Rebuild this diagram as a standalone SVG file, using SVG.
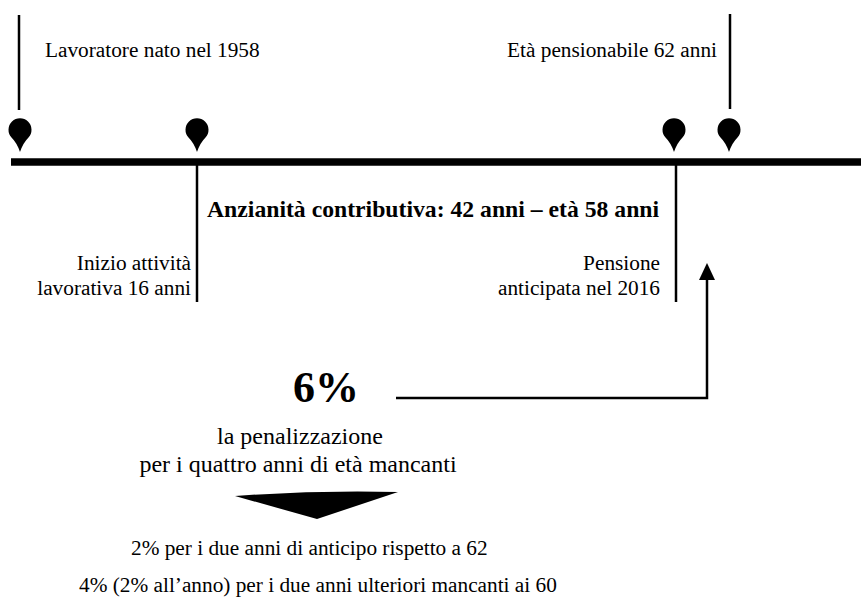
<svg xmlns="http://www.w3.org/2000/svg" width="861" height="608" viewBox="0 0 861 608">
<defs>
<style>
text{font-family:'Liberation Serif','Times New Roman',serif;fill:#000}
.t{font-size:21.3px}
.tl{font-size:24px}
.hd{font-size:23.7px;font-weight:bold}
.big{font-size:44px;font-weight:bold}
.ln{stroke:#000;stroke-width:2.5;fill:none}
.axis{stroke:#000;stroke-width:7.5}
.pin{fill:#000}
</style>
<path id="pinshape" d="M0,152 Q-3,143 -8.5,137.5 A11.5 11.5 0 1 1 8.5,137.5 Q3,143 0,152 Z"/>
</defs>
<rect width="861" height="608" fill="#fff"/>
<g id="connectors">
<line class="ln" x1="19" y1="15" x2="19" y2="110"/>
<line class="ln" x1="730" y1="14" x2="730" y2="109"/>
<line class="axis" x1="11" y1="162" x2="861" y2="162"/>
<line class="ln" x1="197" y1="165" x2="197" y2="302"/>
<line class="ln" x1="676" y1="165" x2="676" y2="302"/>
<path class="ln" d="M396,398 H707 V268"/>
<path d="M707,263 L715,280 L699,280 Z" fill="#000"/>
</g>
<g id="pin1"><use href="#pinshape" x="20" class="pin"/></g>
<g id="pin2"><use href="#pinshape" x="197" class="pin"/></g>
<g id="pin3"><use href="#pinshape" x="674" class="pin"/></g>
<g id="pin4"><use href="#pinshape" x="729" class="pin"/></g>
<g id="born"><text class="t" x="45" y="57">Lavoratore nato nel 1958</text></g>
<g id="retire-age"><text class="t" x="717" y="57" text-anchor="end">Età pensionabile 62 anni</text></g>
<g id="seniority"><text class="hd" x="207" y="217">Anzianità contributiva: 42 anni – età 58 anni</text></g>
<g id="start-work"><text class="t" text-anchor="end"><tspan x="191" y="270">Inizio attività</tspan><tspan x="191" y="295">lavorativa 16 anni</tspan></text></g>
<g id="early-pension"><text class="t" text-anchor="end"><tspan x="660" y="270">Pensione</tspan><tspan x="660" y="295">anticipata nel 2016</tspan></text></g>
<g id="penalty"><text class="big" x="326" y="402" text-anchor="middle">6%</text>
<text class="tl" text-anchor="middle"><tspan x="300" y="444">la penalizzazione</tspan><tspan x="298" y="472">per i quattro anni di età mancanti</tspan></text></g>
<g id="down-arrow"><path d="M235,496 Q317,490 398,492 L317,519 Z" fill="#000"/></g>
<g id="details"><text class="t" x="131" y="555">2% per i due anni di anticipo rispetto a 62</text>
<text class="t" x="79" y="592">4% (2% all’anno) per i due anni ulteriori mancanti ai 60</text></g>
</svg>
